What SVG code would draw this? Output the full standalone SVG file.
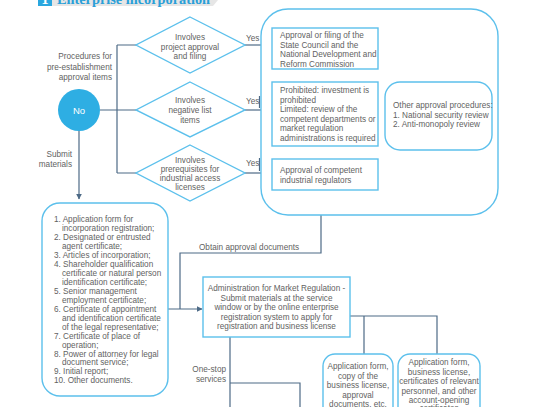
<svg xmlns="http://www.w3.org/2000/svg" width="543" height="407" viewBox="0 0 543 407">
<defs>
<marker id="arr" viewBox="0 0 10 10" refX="9" refY="5" markerWidth="6" markerHeight="6" markerUnits="userSpaceOnUse" orient="auto">
<path d="M0,0 L10,5 L0,10 z" fill="#4d6a86"/>
</marker>
<style>
.t{font-family:"Liberation Sans",Arial,sans-serif;font-size:8.2px;fill:#626262}
.c{text-anchor:middle}
.r{text-anchor:end}
.shape{fill:#fff;stroke:#5cc0ec;stroke-width:1.4}
.conn{fill:none;stroke:#4d6a86;stroke-width:1.2}
</style>
</defs>
<rect width="543" height="407" fill="#fff"/>

<g id="header">
<path d="M52,0 H218 L213,6 H52 z" fill="#e6e6e6"/>
<rect x="38" y="-8" width="14" height="14" fill="#2aa7df"/>
<text x="45" y="4" text-anchor="middle" style="font-family:'Liberation Serif',serif;font-size:14px;font-weight:bold;fill:#fff">1</text>
<text x="57" y="4" textLength="153" lengthAdjust="spacingAndGlyphs" style="font-family:'Liberation Serif',serif;font-size:15px;font-weight:bold;fill:#2a9fd8">Enterprise incorporation</text>
</g>

<g id="connectors">
<path class="conn" d="M100,110 H136 M117,45 V173 M117,45 H136 M117,173 H136"/>
<path class="conn" d="M245,45 H271" marker-end="url(#arr)"/>
<path class="conn" d="M245,110 H271" marker-end="url(#arr)"/>
<path class="conn" d="M245,173 H271" marker-end="url(#arr)"/>
<path class="conn" d="M259.5,96 V108 M259.5,158 V171"/>
<path class="conn" d="M79,131 V199" marker-end="url(#arr)"/>
<path class="conn" d="M168,309 H202" marker-end="url(#arr)"/>
<path class="conn" d="M180,309 V253 H321 V215"/>
<path class="conn" d="M350,316 H437 V354 M364,316 V354"/>
<path class="conn" d="M230,337 V407 M230,383 H300 V407"/>
</g>

<g id="labels">
<text class="t r" x="112"><tspan x="112" y="59">Procedures for</tspan><tspan x="112" y="70">pre-establishment</tspan><tspan x="112" y="80">approval items</tspan></text>
<text class="t r" x="72"><tspan x="72" y="157">Submit</tspan><tspan x="72" y="167">materials</tspan></text>
<text class="t" x="246" y="41">Yes</text>
<text class="t" x="246" y="104">Yes</text>
<text class="t" x="246" y="166">Yes</text>
<text class="t" x="199" y="250">Obtain approval documents</text>
<text class="t r" x="226"><tspan x="226" y="372">One-stop</tspan><tspan x="226" y="382">services</tspan></text>
</g>

<g id="no">
<circle cx="79" cy="110" r="21" fill="#2eaee3"/>
<text class="t c" x="79" y="114" style="fill:#fff;font-size:9.5px">No</text>
</g>

<g id="d1">
<polygon class="shape" points="190,17 245,45 190,73 136,45"/>
<text class="t c"><tspan x="190" y="40">Involves</tspan><tspan x="190" y="49.5">project approval</tspan><tspan x="190" y="59">and filing</tspan></text>
</g>
<g id="d2">
<polygon class="shape" points="190,82 245,110 190,137 136,110"/>
<text class="t c"><tspan x="190" y="103">Involves</tspan><tspan x="190" y="113">negative list</tspan><tspan x="190" y="123">items</tspan></text>
</g>
<g id="d3">
<polygon class="shape" points="190,145 245,173 190,201 136,173"/>
<text class="t c"><tspan x="190" y="163">Involves</tspan><tspan x="190" y="172">prerequisites for</tspan><tspan x="190" y="181">industrial access</tspan><tspan x="190" y="190">licenses</tspan></text>
</g>

<g id="approval-group">
<rect class="shape" x="261" y="9" width="237" height="206" rx="27"/>
</g>
<g id="boxA">
<rect class="shape" x="272" y="28" width="106" height="41"/>
<text class="t"><tspan x="280" y="38">Approval or filing of the</tspan><tspan x="280" y="47.5">State Council and the</tspan><tspan x="280" y="57">National Development and</tspan><tspan x="280" y="66.5">Reform Commission</tspan></text>
</g>
<g id="boxB">
<rect class="shape" x="272" y="82" width="106" height="64"/>
<text class="t"><tspan x="280" y="93">Prohibited: investment is</tspan><tspan x="280" y="102.5">prohibited</tspan><tspan x="280" y="112">Limited: review of the</tspan><tspan x="280" y="121.5">competent departments or</tspan><tspan x="280" y="131">market regulation</tspan><tspan x="280" y="140.5">administrations is required</tspan></text>
</g>
<g id="boxC">
<rect class="shape" x="272" y="159" width="106" height="31"/>
<text class="t"><tspan x="280" y="173">Approval of competent</tspan><tspan x="280" y="182.5">industrial regulators</tspan></text>
</g>
<g id="boxD">
<rect class="shape" x="385" y="82" width="107" height="68" rx="15"/>
<text class="t"><tspan x="393" y="108">Other approval procedures:</tspan><tspan x="393" y="117.5">1. National security review</tspan><tspan x="393" y="127">2. Anti-monopoly review</tspan></text>
</g>

<g id="materials">
<rect class="shape" x="42" y="203" width="126" height="193" rx="18"/>
<text class="t">
<tspan x="54" y="222">1. Application form for</tspan>
<tspan x="62" y="231">incorporation registration;</tspan>
<tspan x="54" y="240">2. Designated or entrusted</tspan>
<tspan x="62" y="249">agent certificate;</tspan>
<tspan x="54" y="258">3. Articles of incorporation;</tspan>
<tspan x="54" y="267">4. Shareholder qualification</tspan>
<tspan x="62" y="276">certificate or natural person</tspan>
<tspan x="62" y="284.5">identification certificate;</tspan>
<tspan x="54" y="293.5">5. Senior management</tspan>
<tspan x="62" y="302.5">employment certificate;</tspan>
<tspan x="54" y="311.5">6. Certificate of appointment</tspan>
<tspan x="62" y="320.5">and identification certificate</tspan>
<tspan x="62" y="329.5">of the legal representative;</tspan>
<tspan x="54" y="338.5">7. Certificate of place of</tspan>
<tspan x="62" y="347.5">operation;</tspan>
<tspan x="54" y="356.5">8. Power of attorney for legal</tspan>
<tspan x="62" y="365">document service;</tspan>
<tspan x="54" y="374">9. Initial report;</tspan>
<tspan x="54" y="383">10. Other documents.</tspan>
</text>
</g>

<g id="amr">
<rect class="shape" x="203" y="277" width="147" height="60"/>
<text class="t c"><tspan x="276.5" y="291">Administration for Market Regulation -</tspan><tspan x="276.5" y="300.5">Submit materials at the service</tspan><tspan x="276.5" y="310">window or by the online enterprise</tspan><tspan x="276.5" y="319.5">registration system to apply for</tspan><tspan x="276.5" y="329">registration and business license</tspan></text>
</g>

<g id="boxE">
<rect class="shape" x="323" y="354" width="70" height="70" rx="12"/>
<text class="t c"><tspan x="358" y="369">Application form,</tspan><tspan x="358" y="378.5">copy of the</tspan><tspan x="358" y="388">business license,</tspan><tspan x="358" y="397.5">approval</tspan><tspan x="358" y="406.5">documents, etc.</tspan></text>
</g>
<g id="boxF">
<rect class="shape" x="398" y="354" width="82" height="70" rx="12"/>
<text class="t c"><tspan x="439" y="365">Application form,</tspan><tspan x="439" y="374.5">business license,</tspan><tspan x="439" y="384">certificates of relevant</tspan><tspan x="439" y="393.5">personnel, and other</tspan><tspan x="439" y="403">account-opening</tspan><tspan x="439" y="411">certificates</tspan></text>
</g>
</svg>
